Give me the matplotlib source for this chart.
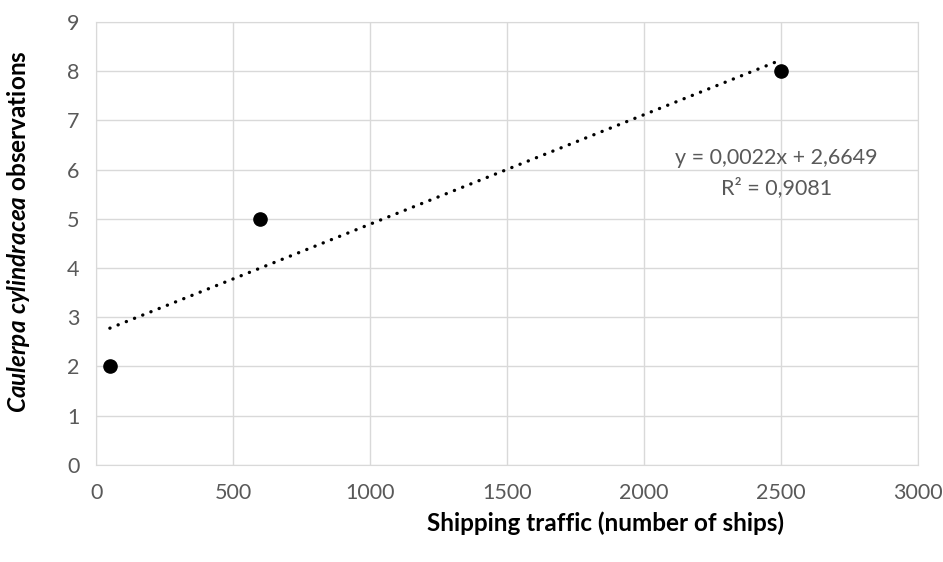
import numpy as np
import matplotlib
matplotlib.use("Agg")
import matplotlib.pyplot as plt

plt.rcParams["font.family"] = ["Lato", "DejaVu Sans"]
plt.rcParams["mathtext.fontset"] = "custom"
plt.rcParams["mathtext.it"] = "Lato:italic:bold"
plt.rcParams["mathtext.rm"] = "Lato:bold"

# data
ships = [50, 600, 2500]
observations = [2, 5, 8]
x_ticks = [0, 500, 1000, 1500, 2000, 2500, 3000]
y_ticks = [0, 1, 2, 3, 4, 5, 6, 7, 8, 9]

# linear trendline
slope, intercept = np.polyfit(ships, observations, 1)
r2 = np.corrcoef(ships, observations)[0, 1] ** 2
trend_x = np.array([min(ships), max(ships)])
trend_y = slope * trend_x + intercept

grey = "#595959"
grid = "#d9d9d9"

fig = plt.figure(figsize=(9.43, 5.62), dpi=100)
ax = fig.add_axes([0.102, 0.173, 0.871, 0.788])

ax.plot(trend_x, trend_y, color="black", linestyle=(0, (0.05, 2.6)), linewidth=2.4,
        dash_capstyle="round", zorder=3)
ax.plot(ships, observations, "o", color="black", markersize=9.5, zorder=4)

ax.set_xlim(0, 3000)
ax.set_ylim(0, 9)
ax.set_xticks(x_ticks)
ax.set_yticks(y_ticks)
ax.grid(True, color=grid, linewidth=1)
ax.set_axisbelow(True)
for s in ax.spines.values():
    s.set_color(grid)
ax.tick_params(length=0, labelsize=15.5, colors=grey, pad=13)
ax.tick_params(axis="y", pad=12)

ax.text(2485, 6.24, "y = 0,%04dx + 2,%04d" % (round(slope * 1e4), round((intercept - 2) * 1e4)),
        ha="center", va="center", fontsize=15.5, color=grey)
ax.text(2485, 5.63, "R² = 0,%04d" % round(r2 * 1e4),
        ha="center", va="center", fontsize=15.5, color=grey)

ax.set_xlabel("Shipping traffic (number of ships)", fontsize=17.5, fontweight="bold",
              color="black")
ax.xaxis.set_label_coords(0.62, -0.106)
ax.set_ylabel(r"$\mathit{Caulerpa\ cylindracea}$ observations", fontsize=17.5,
              fontweight="bold", color="black")
ax.yaxis.set_label_coords(-0.078, 0.526)

fig.savefig("out.png", dpi=100)
